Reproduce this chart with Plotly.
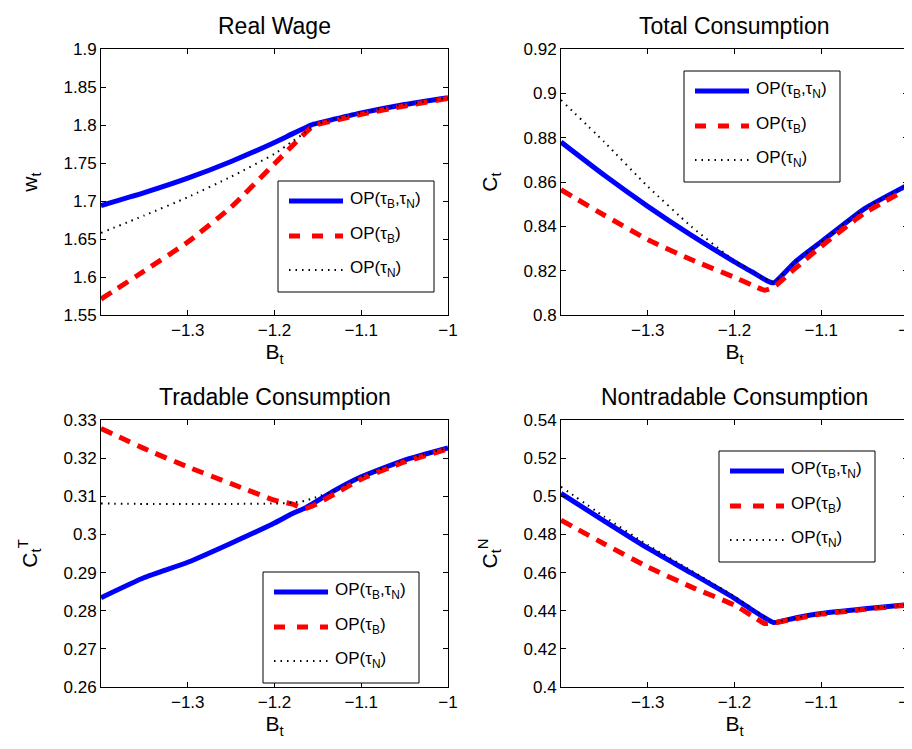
import plotly.graph_objects as go

W, H = 912, 749
OFF = 8  # page body margin compensation (px)

# ---------------- data ----------------
B = [-1.4, -1.35, -1.3, -1.25, -1.2, -1.18, -1.165, -1.155, -1.13, -1.1, -1.05, -1.0]

wage_both = [1.694, 1.711, 1.730, 1.752, 1.777, 1.788, 1.796, 1.801, 1.808, 1.816, 1.827, 1.836]
wage_B    = [1.571, 1.608, 1.646, 1.692, 1.749, 1.772, 1.789, 1.799, 1.806, 1.814, 1.825, 1.835]
wage_N    = [1.658, 1.681, 1.705, 1.732, 1.762, 1.778, 1.790, 1.800, 1.808, 1.816, 1.827, 1.836]

c_both = [0.878, 0.863, 0.849, 0.836, 0.824, 0.8195, 0.816, 0.8145, 0.824, 0.833, 0.848, 0.8587]
c_B    = [0.8565, 0.845, 0.834, 0.825, 0.817, 0.8135, 0.8112, 0.8125, 0.821, 0.831, 0.846, 0.857]
c_N    = [0.897, 0.878, 0.858, 0.840, 0.8245, 0.820, 0.8165, 0.815, 0.824, 0.833, 0.848, 0.8587]

ct_both = [0.2834, 0.2887, 0.2927, 0.2977, 0.3030, 0.3054, 0.3069, 0.3082, 0.3116, 0.3151, 0.3195, 0.3227]
ct_B    = [0.3278, 0.3225, 0.3177, 0.3133, 0.3090, 0.3080, 0.3068, 0.3076, 0.3107, 0.3145, 0.3190, 0.3224]
ct_N    = [0.3081, 0.3080, 0.3080, 0.3080, 0.3081, 0.3083, 0.3088, 0.3095, 0.3116, 0.3151, 0.3195, 0.3227]

cn_both = [0.5015, 0.4870, 0.4728, 0.4598, 0.4465, 0.4405, 0.4362, 0.4338, 0.4362, 0.4385, 0.4410, 0.4432]
cn_B    = [0.4875, 0.4750, 0.4630, 0.4525, 0.4429, 0.4374, 0.4333, 0.4335, 0.4358, 0.4382, 0.4407, 0.4430]
cn_N    = [0.5050, 0.4893, 0.4745, 0.4610, 0.4475, 0.4412, 0.4366, 0.4340, 0.4362, 0.4385, 0.4410, 0.4432]

titles = ["Real Wage", "Total Consumption", "Tradable Consumption", "Nontradable Consumption"]
ylabels = ["w<sub>t</sub>", "C<sub>t</sub>", "C<sub>t</sub><sup>T</sup>", "C<sub>t</sub><sup>N</sup>"]
xlabel = "B<sub>t</sub>"
legend_names = ["OP(τ<sub>B</sub>,τ<sub>N</sub>)", "OP(τ<sub>B</sub>)", "OP(τ<sub>N</sub>)"]

x_ticks = [-1.3, -1.2, -1.1, -1.0]
x_ticktext = ["\u22121.3", "\u22121.2", "\u22121.1", "\u22121"]
y_ticks = [
    [1.55, 1.6, 1.65, 1.7, 1.75, 1.8, 1.85, 1.9],
    [0.8, 0.82, 0.84, 0.86, 0.88, 0.9, 0.92],
    [0.26, 0.27, 0.28, 0.29, 0.3, 0.31, 0.32, 0.33],
    [0.4, 0.42, 0.44, 0.46, 0.48, 0.5, 0.52, 0.54],
]
y_ranges = [[1.55, 1.9], [0.8, 0.92], [0.26, 0.33], [0.4, 0.54]]
x_range = [-1.4, -1.0]

series = [
    (wage_both, wage_B, wage_N),
    (c_both, c_B, c_N),
    (ct_both, ct_B, ct_N),
    (cn_both, cn_B, cn_N),
]

# ---------------- layout geometry (pixels in the final picture) ----------------
panels_px = [  # x0, x1, ytop, ybottom
    (101, 448, 49, 315),
    (561, 908, 49, 315),
    (101, 448, 420, 687),
    (561, 908, 420, 687),
]
legend_px = [(278, 181), (684, 71), (263, 572), (719, 451)]  # box top-left


def px(x):
    return (x - OFF) / W


def py(y):
    return 1 - (y - OFF) / H


FONT = "Liberation Sans, Arial, Helvetica, sans-serif"
styles = [
    dict(color="#0000ff", width=5),
    dict(color="#ff0000", width=5, dash="12px,8px"),
    dict(color="#000000", width=2, dash="1.5px,5px"),
]
legend_dash = ["solid", "11px,12px", "1.5px,5px"]

fig = go.Figure()
shapes, annotations = [], []

for i in range(4):
    xa = "x" if i == 0 else f"x{i+1}"
    ya = "y" if i == 0 else f"y{i+1}"
    for s, ys in enumerate(series[i]):
        fig.add_trace(go.Scatter(x=B, y=ys, mode="lines",
                                 line=dict(**styles[s], shape="spline", smoothing=0.5),
                                 xaxis=xa, yaxis=ya, showlegend=False,
                                 hoverinfo="skip"))
    x0, x1, yt, yb = panels_px[i]
    xd = [px(x0), px(x1)]
    yd = [py(yb), py(yt)]
    axis_common = dict(showgrid=False, zeroline=False, showline=True, linecolor="black",
                       linewidth=1, mirror="ticks", ticks="inside", ticklen=5,
                       tickcolor="black", automargin=False,
                       tickfont=dict(family=FONT, size=17, color="black"))
    fig.layout[("xaxis" if i == 0 else f"xaxis{i+1}")] = dict(
        domain=xd, range=x_range, tickvals=x_ticks, ticktext=x_ticktext,
        anchor=ya, title=dict(text=xlabel, font=dict(family=FONT, size=21, color="black"),
                              standoff=4), **axis_common)
    fig.layout[("yaxis" if i == 0 else f"yaxis{i+1}")] = dict(
        domain=yd, range=y_ranges[i], tickvals=y_ticks[i], anchor=xa,
        title=dict(text=ylabels[i], font=dict(family=FONT, size=21, color="black"),
                   standoff=20), **axis_common)
    # title
    annotations.append(dict(text=titles[i], x=px((x0 + x1) / 2), y=py(yt - 23),
                            xref="paper", yref="paper", showarrow=False,
                            xanchor="center", yanchor="middle",
                            font=dict(family=FONT, size=23, color="black")))
    # legend box
    lx, ly = legend_px[i]
    shapes.append(dict(type="rect", xref="paper", yref="paper",
                       x0=px(lx), x1=px(lx + 156), y0=py(ly), y1=py(ly + 111),
                       line=dict(color="black", width=1), fillcolor="white", layer="above"))
    for k, dy in enumerate([20, 55, 89]):
        st = styles[k]
        shapes.append(dict(type="line", xref="paper", yref="paper",
                           x0=px(lx + 11), x1=px(lx + 65),
                           y0=py(ly + dy), y1=py(ly + dy),
                           line=dict(color=st["color"], width=st["width"], dash=legend_dash[k]),
                           layer="above"))
        annotations.append(dict(text=legend_names[k], x=px(lx + 70), y=py(ly + dy - 1),
                                xref="paper", yref="paper", showarrow=False,
                                xanchor="left", yanchor="middle",
                                font=dict(family=FONT, size=17, color="black")))

fig.update_layout(width=W, height=H, margin=dict(l=0, r=0, t=0, b=0, autoexpand=False),
                  paper_bgcolor="white", plot_bgcolor="white",
                  shapes=shapes, annotations=annotations, showlegend=False,
                  font=dict(family=FONT, color="black"))

fig.write_html("out.html")
